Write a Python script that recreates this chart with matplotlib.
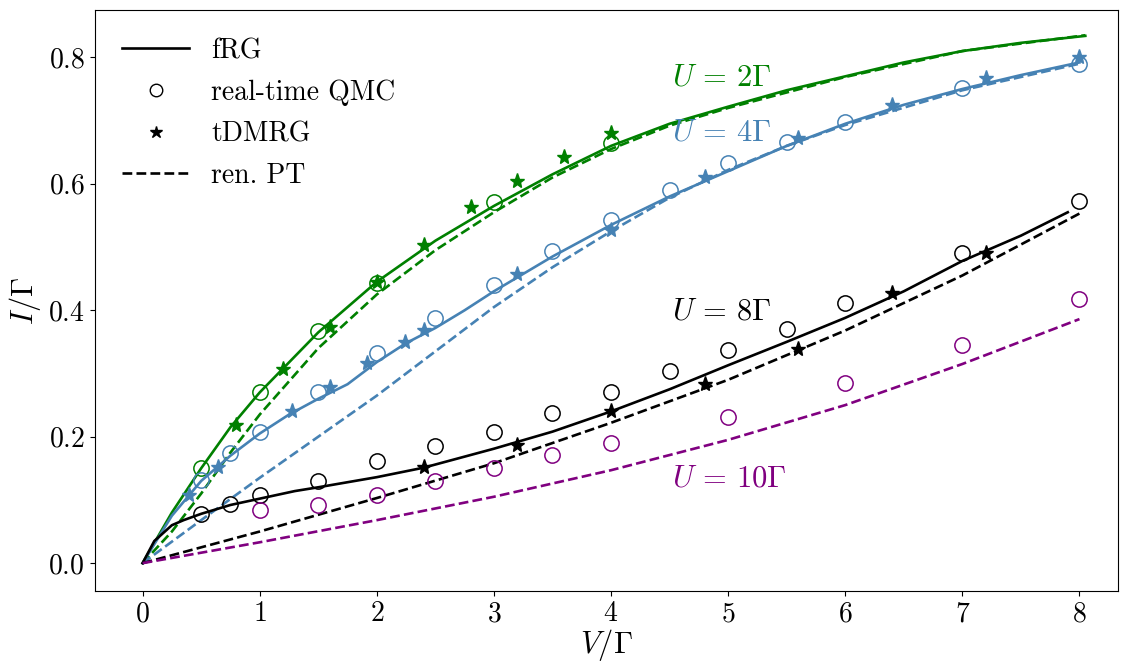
import numpy as np
import matplotlib
matplotlib.use("Agg")
import matplotlib.pyplot as plt
from matplotlib.lines import Line2D

plt.rcParams['font.family'] = 'serif'
plt.rcParams['font.serif'] = ['cmr10']
plt.rcParams['mathtext.fontset'] = 'cm'
plt.rcParams['axes.formatter.use_mathtext'] = True

# U = 2 Gamma
v_frg2 = [0, 0.25, 0.5, 0.75, 1, 1.5, 2, 2.5, 3, 3.5, 4, 4.5, 5, 5.5, 6, 6.5, 7, 7.5, 8.05]
i_frg2 = [0, 0.08, 0.15, 0.215, 0.27, 0.365, 0.445, 0.51, 0.565, 0.615, 0.66, 0.695, 0.722, 0.748, 0.77, 0.792, 0.81, 0.823, 0.834]
v_pt2 = [0, 0.25, 0.5, 0.75, 1, 1.5, 2, 2.5, 3, 3.5, 4, 4.5, 5, 6, 7, 8.05]
i_pt2 = [0, 0.05, 0.11, 0.175, 0.235, 0.34, 0.425, 0.495, 0.555, 0.61, 0.655, 0.692, 0.72, 0.769, 0.81, 0.835]
v_qmc2 = [0.5, 1, 1.5, 2, 3, 4]
i_qmc2 = [0.15, 0.27, 0.367, 0.443, 0.572, 0.664]
v_dmrg2 = [0.8, 1.2, 1.6, 2.0, 2.4, 2.8, 3.2, 3.6, 4.0]
i_dmrg2 = [0.218, 0.307, 0.373, 0.444, 0.504, 0.564, 0.604, 0.643, 0.681]

# U = 4 Gamma
v_frg4 = [0, 0.25, 0.5, 0.75, 1, 1.25, 1.5, 1.75, 2, 2.25, 2.5, 2.75, 3, 3.5, 4, 4.5, 5, 5.5, 6, 6.5, 7, 7.5, 8]
i_frg4 = [0, 0.075, 0.13, 0.17, 0.205, 0.235, 0.26, 0.283, 0.318, 0.348, 0.372, 0.4, 0.43, 0.485, 0.535, 0.58, 0.62, 0.66, 0.695, 0.725, 0.75, 0.772, 0.792]
v_pt4 = [0, 0.5, 1, 1.5, 2, 2.5, 3, 3.5, 4, 4.5, 5, 5.5, 6, 7, 8]
i_pt4 = [0, 0.068, 0.135, 0.2, 0.265, 0.335, 0.405, 0.468, 0.525, 0.578, 0.622, 0.66, 0.693, 0.748, 0.79]
v_qmc4 = [0.5, 0.75, 1, 1.5, 2, 2.5, 3, 3.5, 4, 4.5, 5, 5.5, 6, 7, 8]
i_qmc4 = [0.131, 0.174, 0.207, 0.27, 0.332, 0.387, 0.44, 0.493, 0.543, 0.59, 0.633, 0.666, 0.698, 0.752, 0.79]
v_dmrg4 = [0.4, 0.64, 1.28, 1.6, 1.92, 2.24, 2.4, 3.2, 4.0, 4.8, 5.6, 6.4, 7.2, 8.0]
i_dmrg4 = [0.107, 0.152, 0.24, 0.278, 0.316, 0.35, 0.368, 0.458, 0.527, 0.61, 0.672, 0.725, 0.768, 0.80]

# U = 8 Gamma
v_frg8 = [0, 0.1, 0.25, 0.35, 0.5, 0.75, 1, 1.3, 1.5, 2, 2.4, 3, 3.5, 4, 4.5, 5, 5.5, 6, 6.5, 7, 7.5, 7.9]
i_frg8 = [0, 0.035, 0.06, 0.068, 0.078, 0.092, 0.102, 0.114, 0.12, 0.136, 0.151, 0.181, 0.208, 0.24, 0.275, 0.313, 0.35, 0.388, 0.43, 0.478, 0.518, 0.555]
v_pt8 = [0, 1, 2, 3, 4, 5, 6, 7, 8]
i_pt8 = [0, 0.05, 0.103, 0.158, 0.222, 0.29, 0.368, 0.455, 0.553]
v_qmc8 = [0.5, 0.75, 1, 1.5, 2, 2.5, 3, 3.5, 4, 4.5, 5, 5.5, 6, 7, 8]
i_qmc8 = [0.077, 0.094, 0.107, 0.13, 0.161, 0.185, 0.207, 0.237, 0.27, 0.304, 0.337, 0.37, 0.411, 0.49, 0.573]
v_dmrg8 = [2.4, 3.2, 4.0, 4.8, 5.6, 6.4, 7.2]
i_dmrg8 = [0.152, 0.187, 0.240, 0.284, 0.338, 0.427, 0.490]

# U = 10 Gamma
v_pt10 = [0, 1, 2, 3, 4, 5, 6, 7, 8]
i_pt10 = [0, 0.033, 0.068, 0.105, 0.147, 0.195, 0.25, 0.315, 0.386]
v_qmc10 = [1, 1.5, 2, 2.5, 3, 3.5, 4, 5, 6, 7, 8]
i_qmc10 = [0.084, 0.092, 0.108, 0.13, 0.15, 0.171, 0.19, 0.231, 0.285, 0.345, 0.418]

fig = plt.figure(figsize=(11.26, 6.64), dpi=100)
ax = fig.add_axes([0.084, 0.110, 0.909, 0.875])

lw = 1.9
ms_c = 11
ms_s = 11

series = [
    ('green', v_frg2, i_frg2, v_pt2, i_pt2, v_qmc2, i_qmc2, v_dmrg2, i_dmrg2),
    ('steelblue', v_frg4, i_frg4, v_pt4, i_pt4, v_qmc4, i_qmc4, v_dmrg4, i_dmrg4),
    ('black', v_frg8, i_frg8, v_pt8, i_pt8, v_qmc8, i_qmc8, v_dmrg8, i_dmrg8),
]
for c, vf, jf, vp, jp, vq, jq, vd, jd in series:
    ax.plot(vf, jf, '-', color=c, lw=lw)
    ax.plot(vp, jp, '--', color=c, lw=lw)
    ax.plot(vq, jq, 'o', mfc='none', mec=c, ms=ms_c, mew=1.1)
    ax.plot(vd, jd, '*', color=c, ms=ms_s)

ax.plot(v_pt10, i_pt10, '--', color='purple', lw=lw)
ax.plot(v_qmc10, i_qmc10, 'o', mfc='none', mec='purple', ms=ms_c, mew=1.1)

# curve labels
ax.text(4.52, 0.767, r'$U\,=\,2\Gamma$', color='green', fontsize=22, va='center')
ax.text(4.52, 0.68, r'$U\,=\,4\Gamma$', color='steelblue', fontsize=22, va='center')
ax.text(4.52, 0.397, r'$U\,=\,8\Gamma$', color='black', fontsize=22, va='center')
ax.text(4.52, 0.134, r'$U\,=\,10\Gamma$', color='purple', fontsize=22, va='center')

handles = [
    Line2D([], [], color='black', lw=lw, ls='-'),
    Line2D([], [], color='black', ls='none', marker='o', mfc='none', ms=9),
    Line2D([], [], color='black', ls='none', marker='*', ms=9),
    Line2D([], [], color='black', lw=lw, ls='--'),
]
ax.legend(handles, ['fRG', 'real-time QMC', 'tDMRG', 'ren. PT'], loc='upper left',
          frameon=False, fontsize=20, handlelength=2.4, labelspacing=0.55,
          borderaxespad=0.6)

ax.set_xlim(-0.41, 8.33)
ax.set_ylim(-0.044, 0.875)
ax.set_xticks(range(9))
ax.set_yticks([0.0, 0.2, 0.4, 0.6, 0.8])
ax.tick_params(labelsize=20)
ax.set_xlabel(r'$V/\Gamma$', fontsize=22, labelpad=0)
ax.set_ylabel(r'$I/\Gamma$', fontsize=22, labelpad=4)

fig.savefig('out.png', dpi=100)
